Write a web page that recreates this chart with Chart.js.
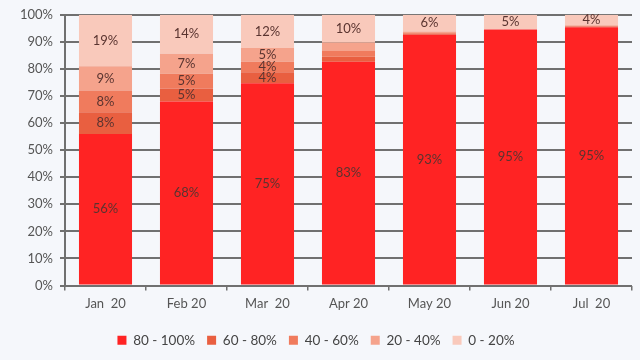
<!DOCTYPE html>
<html>
<head>
<meta charset="utf-8">
<script src="https://cdn.jsdelivr.net/npm/chart.js@4.4.1/dist/chart.umd.min.js"></script>
<style>
  html, body { margin: 0; padding: 0; background: #f5f7fb; }
  #wrap { width: 640px; height: 360px; position: relative; }
</style>
</head>
<body>
<div id="wrap"><canvas id="chartCanvas" width="640" height="360"></canvas></div>
<script>
// data (share of total, %)
var months = ['Jan  20', 'Feb 20', 'Mar  20', 'Apr 20', 'May 20', 'Jun 20', 'Jul  20'];
var band80to100 = [56, 68, 74.7, 82.7, 92.6, 94.6, 95.4];
var band60to80  = [8, 4.8, 4.1, 1.8, 0.4, 0, 0.3];
var band40to60  = [8, 5.4, 3.9, 2.1, 0.3, 0, 0.2];
var band20to40  = [9, 7.4, 5.0, 3.2, 0.5, 0, 0.2];
var band0to20   = [19, 14.4, 12.3, 10.2, 6.2, 5.4, 3.9];
var yTicks = [0, 10, 20, 30, 40, 50, 60, 70, 80, 90, 100];

var fontFamily = 'Lato, "Noto Sans", sans-serif';

// draws the % value in the middle of each segment
var segmentLabels = {
  id: 'segmentLabels',
  afterDatasetsDraw: function(chart) {
    var ctx = chart.ctx;
    ctx.save();
    ctx.font = '13px ' + fontFamily;
    ctx.fillStyle = '#5a3430';
    ctx.textAlign = 'center';
    ctx.textBaseline = 'middle';
    chart.data.datasets.forEach(function(ds, i) {
      var meta = chart.getDatasetMeta(i);
      meta.data.forEach(function(bar, j) {
        var v = ds.data[j];
        if (v < 3.5) return;
        var mid = (bar.y + bar.base) / 2;
        ctx.fillText(Math.round(v) + '%', bar.x, mid);
      });
    });
    ctx.restore();
  }
};

function setChart() {
  var ctx = document.getElementById('chartCanvas').getContext('2d');
  var chart = new Chart(ctx, {
    type: 'bar',
    data: {
      labels: months,
      datasets: [
        { label: '80 - 100%', data: band80to100, backgroundColor: '#ff2323' },
        { label: '60 - 80%',  data: band60to80,  backgroundColor: '#e95f40' },
        { label: '40 - 60%',  data: band40to60,  backgroundColor: '#f07b5d' },
        { label: '20 - 40%',  data: band20to40,  backgroundColor: '#f5a38c' },
        { label: '0 - 20%',   data: band0to20,   backgroundColor: '#f9c9bb' }
      ]
    },
    options: {
      responsive: false,
      animation: false,
      devicePixelRatio: 1,
      layout: { padding: { top: 5, right: 8, left: 0, bottom: 3 } },
      datasets: {
        bar: { categoryPercentage: 1, barPercentage: 0.655, borderWidth: 0 }
      },
      scales: {
        x: {
          stacked: true,
          grid: { display: true, drawOnChartArea: false, drawTicks: true, tickLength: 5, color: '#707070', lineWidth: 1.5, offset: true },
          border: { display: false },
          ticks: { color: '#555', font: { family: fontFamily, size: 13 }, padding: 6, maxRotation: 0 },
          afterFit: function(scale) { scale.height = 36; }
        },
        y: {
          stacked: true,
          min: 0,
          max: 100,
          afterBuildTicks: function(scale) {
            scale.ticks = yTicks.map(function(v) { return { value: v }; });
          },
          grid: { color: '#707070', lineWidth: 2, tickLength: 5 },
          border: { display: true, color: '#707070', width: 2 },
          ticks: {
            color: '#555',
            font: { family: fontFamily, size: 13 },
            padding: 7,
            callback: function(v) { return v + '%'; }
          },
          afterFit: function(scale) { scale.width = 65; }
        }
      },
      plugins: {
        legend: {
          position: 'bottom',
          labels: {
            boxWidth: 9,
            boxHeight: 9,
            padding: 12,
            color: '#444',
            font: { family: fontFamily, size: 13.5 }
          }
        },
        tooltip: { enabled: false }
      }
    },
    plugins: [segmentLabels]
  });
}

setChart();
</script>
</body>
</html>
